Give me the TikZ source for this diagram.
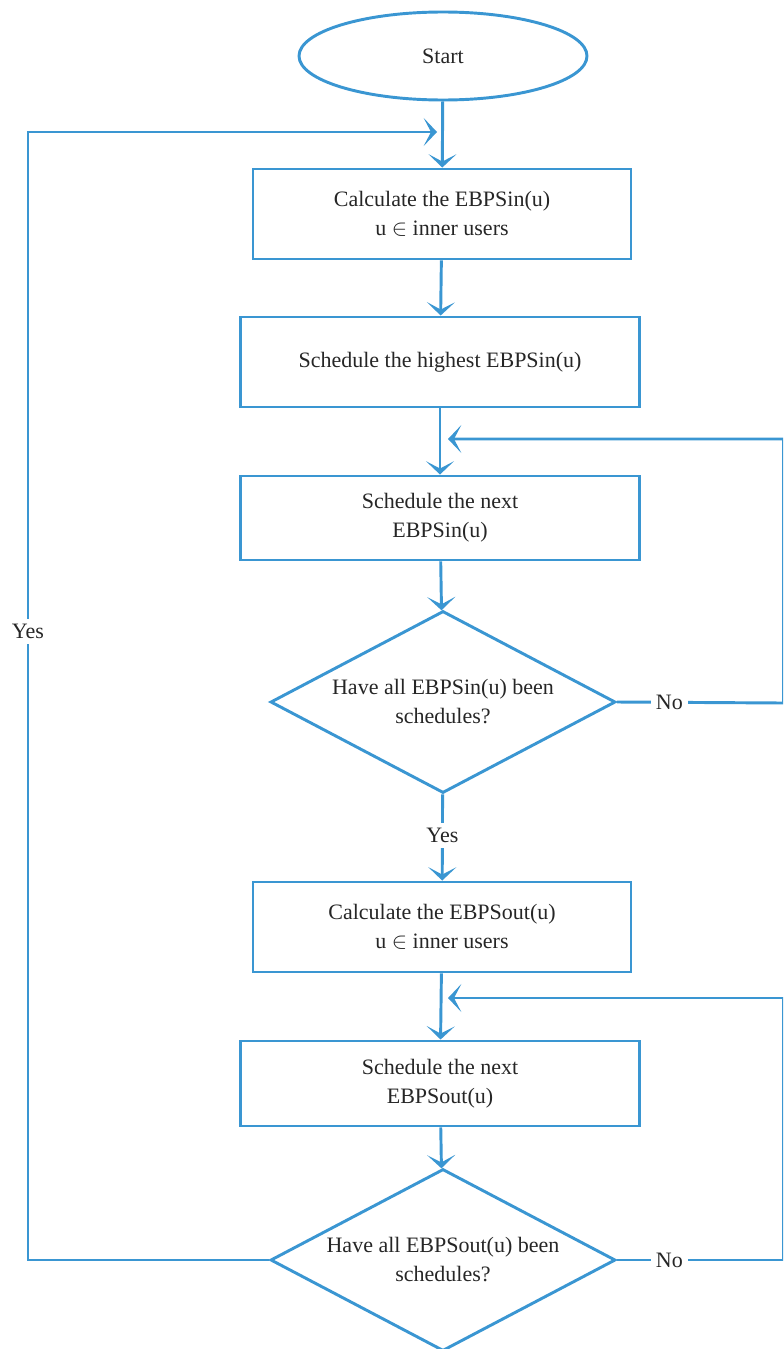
\documentclass[tikz,border=0pt]{standalone}
\usepackage{fontspec}
\newfontfamily\flowfont{LiberationSerif}[Extension=.ttf, UprightFont=*-Regular]
\usetikzlibrary{shapes.geometric,arrows.meta}
\definecolor{flowblue}{RGB}{58,150,210}
\begin{document}
\begin{tikzpicture}[x=0.75pt,y=-0.75pt,
  every node/.style={font=\flowfont\fontsize{16.5}{21.75}\selectfont, text=black!85},
  proc/.style={draw=flowblue, line width=2.2pt, rectangle, inner sep=0pt, align=center},
  term/.style={draw=flowblue, line width=2.2pt, ellipse, inner sep=0pt,
    minimum width=216pt, minimum height=66pt},
  decide/.style={draw=flowblue, line width=2.2pt, diamond, aspect=1.9, inner sep=0pt,
    align=center, minimum width=258.75pt, minimum height=136.5pt},
  flow/.style={draw=flowblue, line width=2.2pt,
    -{Stealth[length=10pt,width=21pt,inset=5.5pt]}},
  tag/.style={fill=white, inner sep=4pt}
]
\useasboundingbox (0,0) rectangle (783,1349);
\clip (0,0) rectangle (783,1349);

% steps of the flow
\node[term] (start) at (443,56) {Start};
\node[proc, minimum width=283.5pt, minimum height=67.5pt] (b1) at (442,214)
  {Calculate the EBPSin(u)\\u $\in$ inner users};
\node[proc, minimum width=299.25pt, minimum height=67.5pt] (b2) at (440,362)
  {Schedule the highest EBPSin(u)};
\node[proc, minimum width=299.25pt, minimum height=63pt] (b3) at (440,518)
  {Schedule the next\\EBPSin(u)};
\node[decide] (d1) at (443,702) {Have all EBPSin(u) been\\schedules?};
\node[proc, minimum width=283.5pt, minimum height=67.5pt] (b4) at (442,927)
  {Calculate the EBPSout(u)\\u $\in$ inner users};
\node[proc, minimum width=299.25pt, minimum height=63.75pt] (b5) at (440,1083.5)
  {Schedule the next\\EBPSout(u)};
\node[decide] (d2) at (443,1260) {Have all EBPSout(u) been\\schedules?};

% loop corners and joins on the main line
\coordinate (joinA) at (437,132);
\coordinate (cornerTL) at (28,132);
\coordinate (cornerBL) at (28,1260);
\coordinate (joinB) at (448,439);
\coordinate (cornerR1a) at (783.5,703);
\coordinate (cornerR1b) at (783.5,439);
\coordinate (joinC) at (448,998);
\coordinate (cornerR2a) at (783.5,1260);
\coordinate (cornerR2b) at (783.5,998);

% main sequence
\draw[flow] (start) -- (b1);
\draw[flow] (b1) -- (b2);
\draw[flow] (b2) -- (b3);
\draw[flow] (b3) -- (d1);
\draw[flow] (d1) -- node[tag, pos=0.48] {Yes} (b4);
\draw[flow] (b4) -- (b5);
\draw[flow] (b5) -- (d2);

% loops back
\draw[flow] (d1.east) -- node[tag, pos=0.315] {No} (cornerR1a) -- (cornerR1b) -- (joinB);
\draw[flow] (d2.east) -- node[tag, pos=0.315] {No} (cornerR2a) -- (cornerR2b) -- (joinC);
\draw[flow] (d2.west) -- (cornerBL) -- node[tag, pos=0.557] {Yes} (cornerTL) -- (joinA);
\end{tikzpicture}
\end{document}
